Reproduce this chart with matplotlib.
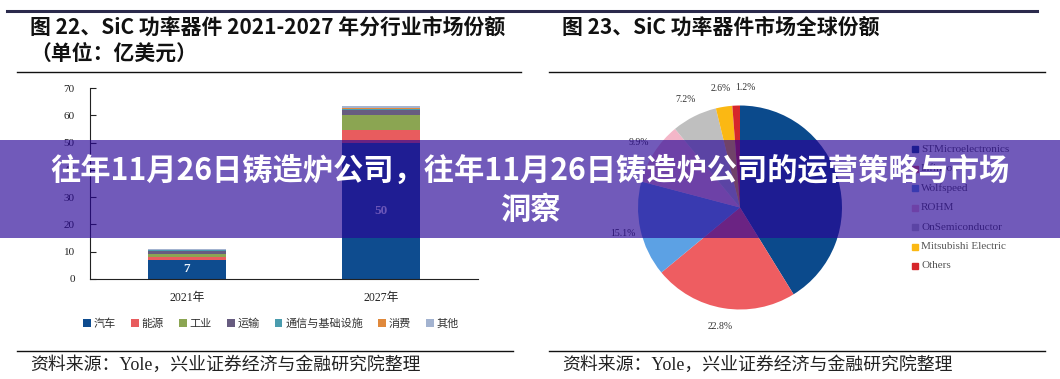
import matplotlib
matplotlib.use("Agg")
import matplotlib.pyplot as plt
import numpy as np
from matplotlib.patches import Rectangle
from matplotlib.lines import Line2D

plt.rcParams['font.family'] = ['Noto Sans CJK SC', 'DejaVu Sans']

W, H = 1060, 379

# ---------------- data ----------------
years = ["2021年", "2027年"]
segments = ["汽车", "能源", "工业", "运输", "通信与基础设施", "消费", "其他"]
seg_colors = ["#0e4c8f", "#e85c5e", "#8ba552", "#675c80", "#4a9cae", "#e0893c", "#a3b3d0"]
auto = [7, 50]
energy = [1.2, 4.5]
industry = [1.0, 5.5]
transport = [1.1, 2.0]
telecom = [0.2, 0.4]
consumer = [0.2, 0.3]
other = [0.3, 0.6]
bar_labels = ["7", "50"]

companies = ["STMicroelectronics", "Infineon", "Wolfspeed", "ROHM",
             "OnSemiconductor", "Mitsubishi Electric", "Others"]
shares = [41.2, 22.8, 15.1, 9.9, 7.2, 2.6, 1.2]
pie_colors = ["#0b4a8c", "#ee5d61", "#5ca1e4", "#f4b6c8", "#bfbfbf", "#fbb813", "#d6262b"]
pie_labels = ["", "22.8%", "15.1%", "9.9%", "7.2%", "2.6%", "1.2%"]

banner_line1 = "往年11月26日铸造炉公司，往年11月26日铸造炉公司的运营策略与市场"
banner_line2 = "洞察"

fig = plt.figure(figsize=(W / 100, H / 100), dpi=100)
fig.patch.set_facecolor("white")


def rect(x0, y0, x1, y1):
    return [x0 / W, 1 - y1 / H, (x1 - x0) / W, (y1 - y0) / H]


def fx(x):
    return x / W


def fy(y):
    return 1 - y / H


def hline(x0, x1, y, lw=1.0, color="#111111"):
    fig.add_artist(Line2D([fx(x0), fx(x1)], [fy(y), fy(y)], lw=lw, color=color,
                          transform=fig.transFigure))


# frame lines
hline(7, 1037, 11, lw=2.2, color="#2b2a4c")
hline(17, 521, 72, lw=1.0)
hline(549, 1045, 72, lw=1.0)
hline(17, 513, 351, lw=1.0)
hline(549, 1045, 351, lw=1.0)

# titles
fig.text(fx(30), fy(27), "图 22、SiC 功率器件 2021-2027 年分行业市场份额",
         fontsize=15, fontweight="bold", va="center", ha="left", color="#111111")
fig.text(fx(30), fy(53), "（单位：亿美元）",
         fontsize=15, fontweight="bold", va="center", ha="left", color="#111111")
fig.text(fx(562), fy(27), "图 23、SiC 功率器件市场全球份额",
         fontsize=15, fontweight="bold", va="center", ha="left", color="#111111")

src = "资料来源：Yole，兴业证券经济与金融研究院整理"
fig.text(fx(30), fy(365), src, fontsize=12.9, va="center", ha="left", color="#222222",
         family=["Liberation Serif", "Noto Sans CJK SC"])
fig.text(fx(562), fy(365), src, fontsize=12.9, va="center", ha="left", color="#222222",
         family=["Liberation Serif", "Noto Sans CJK SC"])

# ---------------- stacked bar ----------------
ax = fig.add_axes(rect(90, 88, 478, 279))
x = np.arange(len(years))
series = [auto, energy, industry, transport, telecom, consumer, other]
bottom = np.zeros(len(years))
handles = []
for vals, col, name in zip(series, seg_colors, segments):
    b = ax.bar(x, vals, 0.4, bottom=bottom, color=col, label=name, linewidth=0)
    handles.append(b)
    bottom += np.array(vals)
for i, lab in enumerate(bar_labels):
    ax.text(x[i], auto[i] / 2, lab, ha="center", va="center", color="#eef4fb",
            fontsize=9.5, fontweight="bold", family=["Liberation Serif"])
ax.set_xlim(-0.5, 1.5)
ax.set_ylim(0, 70)
ax.set_yticks(range(0, 71, 10))
ax.set_xticks(x)
ax.set_xticklabels(years, family=["Liberation Serif", "Noto Sans CJK SC"], fontsize=8.5)
for t in ax.get_yticklabels():
    t.set_family(["Liberation Serif"])
    t.set_fontsize(8)
ax.spines["top"].set_visible(False)
ax.spines["right"].set_visible(False)
ax.spines["left"].set_color("#222222")
ax.spines["bottom"].set_color("#222222")
ax.tick_params(axis="y", direction="in", length=4, pad=11, colors="#222222")
ax.tick_params(axis="x", length=0, pad=9, colors="#222222")
ax.patch.set_alpha(0)

leg = fig.legend(handles=handles, labels=segments, loc="center",
                 bbox_to_anchor=(fx(271), fy(324)), ncol=7, frameon=False,
                 fontsize=8, handlelength=0.7, handleheight=0.7,
                 handletextpad=0.25, columnspacing=1.35)
for t in leg.get_texts():
    t.set_color("#333333")

# ---------------- pie ----------------
r = 102
cx, cy = 740, 207.5
pax = fig.add_axes(rect(cx - r, cy - r, cx + r, cy + r))
wedges, texts = pax.pie(shares, colors=pie_colors, startangle=90, counterclock=False,
                        labels=pie_labels, labeldistance=1.18, radius=1.0,
                        wedgeprops=dict(linewidth=0),
                        textprops=dict(fontsize=7, color="#333333",
                                       family=["Liberation Serif"]))
for t in texts:
    t.set_ha("center")
texts[-1].set_ha("left")
pax.set_xlim(-1, 1)
pax.set_ylim(-1, 1)
pax.set_aspect("auto")

# pie legend
leg_y0 = 149
for i, (name, col) in enumerate(zip(companies, pie_colors)):
    yy = leg_y0 + i * 19.5
    fig.add_artist(Rectangle((fx(912), fy(yy + 3)), 6 / W, 6 / H, color=col,
                             transform=fig.transFigure))
    fig.text(fx(921), fy(yy), name, fontsize=8, va="center", ha="left",
             color="#555555", family=["Liberation Serif"])

# ---------------- overlay banner ----------------
fig.add_artist(Rectangle((0, fy(238)), 1, (238 - 140) / H, color=(40 / 255, 5 / 255, 150 / 255),
                         alpha=0.66, transform=fig.transFigure, zorder=10, linewidth=0))
fig.text(0.5, fy(171), banner_line1, fontsize=21.8, fontweight="bold", color="white",
         ha="center", va="center", zorder=11)
fig.text(0.5, fy(210), banner_line2, fontsize=21.8, fontweight="bold", color="white",
         ha="center", va="center", zorder=11)

fig.savefig("out.png", dpi=100)
